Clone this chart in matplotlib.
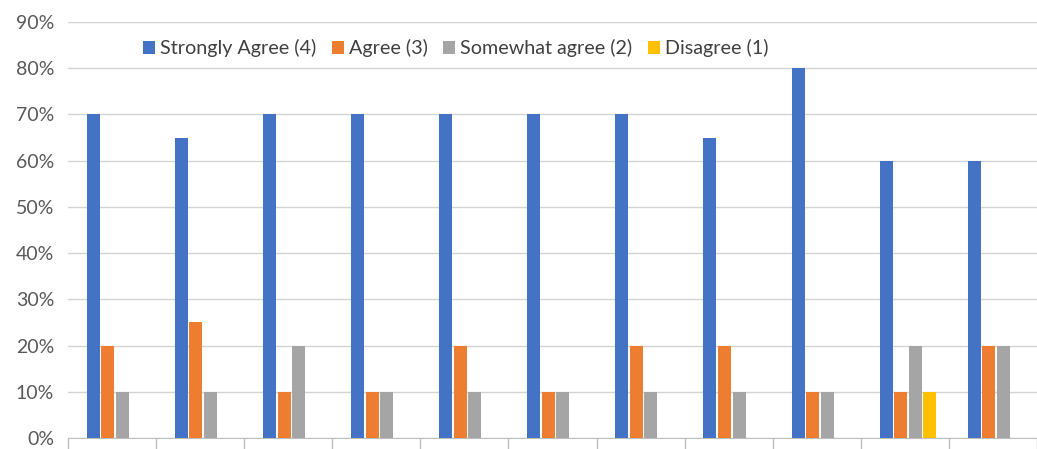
import numpy as np
import matplotlib
matplotlib.use('Agg')
import matplotlib.pyplot as plt
from matplotlib.ticker import PercentFormatter

# Survey responses per item (share of respondents)
series_names = ['Strongly Agree (4)', 'Agree (3)', 'Somewhat agree (2)', 'Disagree (1)']
strongly_agree = [0.70, 0.65, 0.70, 0.70, 0.70, 0.70, 0.70, 0.65, 0.80, 0.60, 0.60]
agree = [0.20, 0.25, 0.10, 0.10, 0.20, 0.10, 0.20, 0.20, 0.10, 0.10, 0.20]
somewhat_agree = [0.10, 0.10, 0.20, 0.10, 0.10, 0.10, 0.10, 0.10, 0.10, 0.20, 0.20]
disagree = [0, 0, 0, 0, 0, 0, 0, 0, 0, 0.10, 0]
colors = ['#4472C4', '#ED7D31', '#A5A5A5', '#FFC000']

plt.rcParams['font.family'] = ['Lato', 'DejaVu Sans']

fig = plt.figure(figsize=(10.37, 4.49), dpi=100)
ax = fig.add_axes([68 / 1037, 11 / 449, 969 / 1037, 416 / 449])

x = np.arange(len(strongly_agree))
step = 0.165
width = 0.148
shift = 0.035
all_series = [strongly_agree, agree, somewhat_agree, disagree]
for i, (vals, name, c) in enumerate(zip(all_series, series_names, colors)):
    ax.bar(x + shift + (i - 1.5) * step, vals, width=width, color=c, label=name, zorder=3)

ax.set_xlim(-0.5, len(x) - 0.5)
ax.set_ylim(0, 0.9)
ax.set_yticks(np.arange(0, 0.91, 0.1))
ax.yaxis.set_major_formatter(PercentFormatter(1.0, decimals=0))
ax.tick_params(axis='y', length=0, pad=10, labelsize=14, labelcolor='#595959')
ax.grid(axis='y', color='#D4D4D4', linewidth=1, zorder=0)

# category boundary ticks (labels are cut off in the source)
ax.set_xticks(np.arange(-0.5, len(x), 1.0))
ax.set_xticklabels([])
ax.tick_params(axis='x', direction='out', length=9, color='#BFBFBF', width=1)

for s in ['top', 'right', 'left']:
    ax.spines[s].set_visible(False)
ax.spines['bottom'].set_color('#BFBFBF')

ax.legend(loc='center', bbox_to_anchor=(0.40, 0.937), ncol=4, frameon=False,
          fontsize=14.2, handlelength=0.6, handleheight=0.6, handletextpad=0.25,
          columnspacing=0.8, labelcolor='#404040')

fig.savefig('out.png', dpi=100)
